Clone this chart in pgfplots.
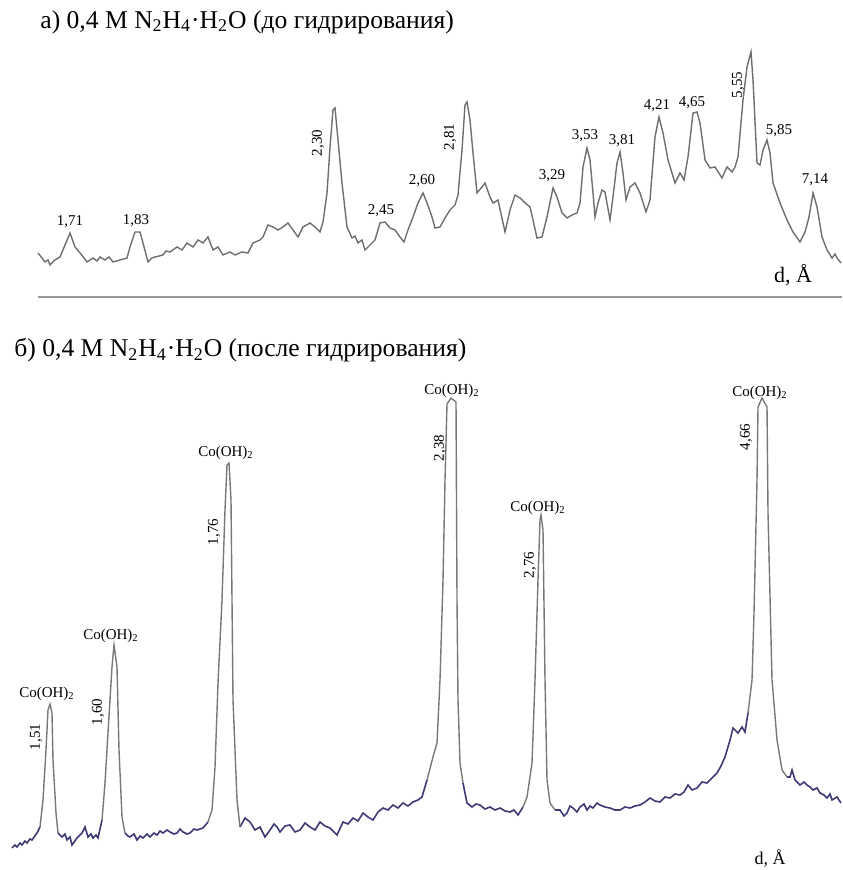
\documentclass[border=0pt]{standalone}
\usepackage{fontspec}
\setmainfont{Liberation Serif}
\usepackage{pgfplots}
\pgfplotsset{compat=1.18}
\definecolor{curvegray}{RGB}{110,110,110}
\definecolor{peakgray}{RGB}{120,120,120}
\definecolor{basenavy}{RGB}{62,58,118}
\begin{document}
\begin{tikzpicture}[
  lbl/.style={font=\fontsize{7.5}{9}\selectfont, inner sep=0pt},
  rlbl/.style={lbl, rotate=90},
  ttl/.style={font=\fontsize{12.8}{14}\selectfont, inner sep=0pt, anchor=west},
  dax/.style={font=\fontsize{9}{10}\selectfont, inner sep=0pt},
]
\useasboundingbox (0,0) rectangle (421pt,435pt);

% a) before hydrogenation
\begin{axis}[
    at={(0pt,285pt)}, anchor=south west,
    scale only axis, width=421pt, height=130pt,
    xmin=0, xmax=842, ymin=0, ymax=260,
    hide axis, clip=false,
]
\addplot[curvegray, line width=0.7pt] coordinates {
(38,47) (42,42) (45,38) (48,40) (50,35) (55,40) (60,43) (65,55) (70,67) (75,53) (80,47) (84,42) (87,38)
(93,42) (97,39) (100,43) (105,40) (109,43) (113,38) (120,40) (127,42) (130,53) (135,68) (140,68) (143,57)
(148,38) (152,42) (155,43) (163,45) (166,49) (170,48) (177,53) (182,50) (187,57) (193,53) (198,60) (203,57)
(208,63) (213,50) (218,53) (223,45) (230,48) (235,45) (242,48) (248,47) (253,57) (260,60)
(263,63) (268,75) (273,73) (278,70) (283,73) (288,77) (293,70) (298,63) (303,73) (310,77)
(315,73) (320,68) (323,78) (327,107) (330,153) (333,190) (335,192) (338,160) (342,117) (347,73)
(352,62) (355,64) (358,57) (362,60) (365,50) (370,55) (375,60) (380,77) (385,78) (390,72) (395,70) (400,63)
(404,58) (408,70) (413,83) (418,97) (423,107) (427,97) (432,83) (435,72) (440,73) (445,82)
(450,90) (455,95) (458,105) (462,150) (465,195) (467,198) (470,180) (473,147) (477,107) (482,113)
(485,117) (490,103) (493,97) (498,100) (505,68) (510,90) (515,105) (520,102) (525,97) (530,93)
(537,62) (542,63) (547,83) (553,112) (557,103) (562,87) (567,82) (572,85) (577,87) (580,97)
(583,133) (587,152) (590,140) (593,107) (595,83) (598,97) (602,110) (605,108) (610,80) (613,103)
(617,137) (620,148) (623,127) (626,100) (630,113) (635,117) (640,107) (646,88) (650,100) (655,163)
(659,183) (663,167) (668,140) (675,117) (680,127) (684,120) (688,143) (693,187) (697,188) (700,177)
(705,140) (710,132) (715,133) (722,122) (727,133) (732,128) (735,133) (738,143) (743,200) (747,233)
(751,248) (753,220) (757,137) (760,135) (763,150) (767,160) (770,147) (773,117) (780,97) (787,80)
(793,68) (800,58) (805,68) (809,83) (813,107) (817,93) (822,63) (827,50) (832,42) (835,46) (837,42) (841,37)
};
% separator line
\addplot[gray!80, line width=1pt] coordinates {(38,3) (842,3)};

\node[ttl] at (axis cs:40,278) {а) 0,4 M N\textsubscript{2}H\textsubscript{4}·H\textsubscript{2}O (до гидрирования)};
\node[lbl] at (axis cs:70,78) {1,71};
\node[lbl] at (axis cs:136,79) {1,83};
\node[rlbl] at (axis cs:318,157) {2,30};
\node[lbl] at (axis cs:381,89) {2,45};
\node[lbl] at (axis cs:422,119) {2,60};
\node[rlbl] at (axis cs:450,163) {2,81};
\node[lbl] at (axis cs:552,124) {3,29};
\node[lbl] at (axis cs:585,164) {3,53};
\node[lbl] at (axis cs:622,159) {3,81};
\node[lbl] at (axis cs:657,194) {4,21};
\node[lbl] at (axis cs:692,197) {4,65};
\node[rlbl] at (axis cs:738,215) {5,55};
\node[lbl] at (axis cs:779,169) {5,85};
\node[lbl] at (axis cs:815,120) {7,14};
\node[dax, font=\fontsize{11}{12}\selectfont] at (axis cs:793,25) {d, Å};
\end{axis}

% b) after hydrogenation
\begin{axis}[
    at={(0pt,0pt)}, anchor=south west,
    scale only axis, width=421pt, height=245pt,
    xmin=0, xmax=842, ymin=0, ymax=490,
    hide axis, clip=false,
]
% background segments
\addplot[basenavy, line width=0.8pt] coordinates {
(12,22) (15,25) (17,23) (20,27) (22,25) (25,29) (27,27) (30,31) (32,30) (37,37) (40,43)};
\addplot[basenavy, line width=0.8pt] coordinates {
(58,37) (62,33) (65,36) (67,30) (70,33) (72,25) (77,32) (82,37) (85,43) (88,33) (91,36) (93,32) (96,35) (98,32) (102,50)};
\addplot[basenavy, line width=0.8pt] coordinates {
(125,37) (128,34) (130,33) (134,36) (137,30) (140,34) (143,32) (147,36) (150,33) (154,37) (157,35) (160,39) (163,37) (167,40) (170,38) (174,36) (177,37) (180,41) (183,38)
(187,36) (190,37) (194,41) (197,40) (203,42) (208,48)};
\addplot[basenavy, line width=0.8pt] coordinates {
(240,43) (245,52) (250,48) (255,40) (260,43) (265,33) (270,40) (274,46) (277,43) (280,38) (285,44) (290,45) (295,38)
(300,40) (305,47) (310,43) (315,40) (320,48) (325,44) (330,42) (337,35) (343,48) (348,46) (353,52) (358,49) (363,57) (368,53) (373,50) (378,58) (383,62)
(388,60) (393,65) (398,62) (403,67) (408,64) (413,68) (418,70) (422,73) (427,90)};
\addplot[basenavy, line width=0.8pt] coordinates {
(463,87) (467,67) (472,63) (476,66) (480,65) (485,61) (490,63) (495,60) (500,62) (505,59) (510,58) (514,60) (518,55) (523,63)};
\addplot[basenavy, line width=0.8pt] coordinates {
(555,60) (560,60) (564,54) (567,57) (570,64) (573,62) (577,58) (580,63) (584,66) (587,60) (590,64) (593,62) (597,67) (600,65) (605,63) (610,62) (615,60) (620,60)
(625,63) (630,62) (635,64) (640,65) (645,68) (650,72) (655,69) (660,68) (665,73) (670,72) (675,76) (680,75) (684,78) (688,85) (692,80) (697,82) (702,88) (707,87) (712,92) (717,97)
(721,104) (725,113) (730,130) (733,142) (738,137) (742,143) (745,138) (748,157)};
\addplot[basenavy, line width=0.8pt] coordinates {
(787,93) (790,93) (792,100) (795,90) (800,85) (804,88) (807,85) (810,83) (813,80) (817,82) (820,77) (824,75) (827,72) (830,76) (832,70)
(837,73) (841,67)};
% peaks
\addplot[peakgray, line width=0.7pt] coordinates {
(40,43) (43,70) (46,120) (48,160) (50,166) (52,157) (53,110) (56,57) (58,37)};
\addplot[peakgray, line width=0.7pt] coordinates {
(102,50) (105,87) (108,137) (112,203) (114,225) (117,203) (119,120) (122,53) (125,37)};
\addplot[peakgray, line width=0.7pt] coordinates {
(208,48) (212,60) (215,103) (218,187) (222,270) (225,360) (227,405) (229,407) (231,370)
(233,170) (237,70) (240,43)};
\addplot[peakgray, line width=0.7pt] coordinates {
(427,90) (433,113) (437,127) (440,190) (443,290) (445,390) (447,466) (451,472) (456,468)
(457,270) (458,170) (460,107) (463,87)};
\addplot[peakgray, line width=0.7pt] coordinates {
(523,63) (527,73) (532,107) (535,190) (538,290) (540,350) (541,355) (543,340) (545,190)
(547,90) (550,67) (555,60)};
\addplot[peakgray, line width=0.7pt] coordinates {
(748,157) (752,190) (754,257) (757,390) (758,463) (762,472) (767,463) (768,357) (772,190)
(777,130) (782,100) (787,93)};

\node[ttl] at (axis cs:14,520) {б) 0,4 M N\textsubscript{2}H\textsubscript{4}·H\textsubscript{2}O (после гидрирования)};
\node[lbl] at (axis cs:47,176) {Co(OH)\textsubscript{2}};
\node[rlbl] at (axis cs:36,133) {1,51};
\node[lbl] at (axis cs:111,234) {Co(OH)\textsubscript{2}};
\node[rlbl] at (axis cs:98,158) {1,60};
\node[lbl] at (axis cs:226,417) {Co(OH)\textsubscript{2}};
\node[rlbl] at (axis cs:214,338) {1,76};
\node[lbl] at (axis cs:452,479) {Co(OH)\textsubscript{2}};
\node[rlbl] at (axis cs:440,422) {2,38};
\node[lbl] at (axis cs:538,362) {Co(OH)\textsubscript{2}};
\node[rlbl] at (axis cs:530,305) {2,76};
\node[lbl] at (axis cs:760,477) {Co(OH)\textsubscript{2}};
\node[rlbl] at (axis cs:746,433) {4,66};
\node[dax] at (axis cs:770,11) {d, Å};
\end{axis}
\end{tikzpicture}
\end{document}
